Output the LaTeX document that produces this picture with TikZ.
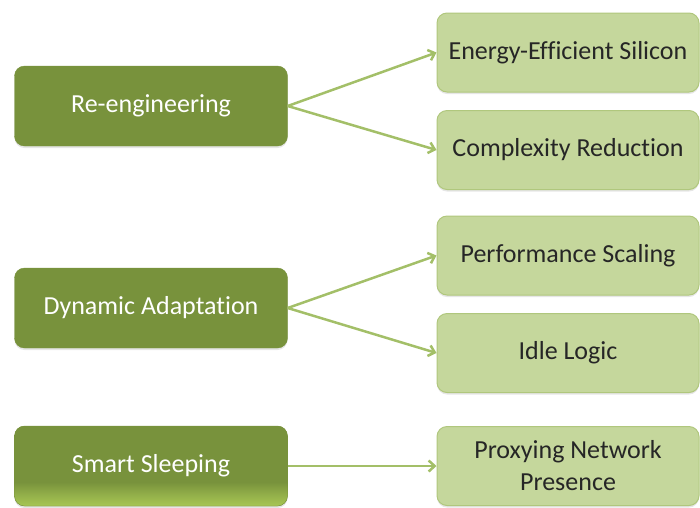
\documentclass[tikz,border=0pt]{standalone}
\usepackage{fontspec}
\setmainfont{Carlito}[Ligatures=NoCommon]
\usepackage{tikz}
\usetikzlibrary{arrows.meta}
\usetikzlibrary{shadows}

\definecolor{olivedark}{RGB}{120,146,60}
\definecolor{olivelight}{RGB}{197,215,156}
\definecolor{oliveline}{RGB}{176,199,125}
\definecolor{olivearrow}{RGB}{163,191,104}
\definecolor{olivebright}{RGB}{168,198,84}

% shading for the lowest left box
\pgfdeclareverticalshading{sleepshade}{100bp}{color(0bp)=(olivebright); color(25bp)=(olivebright); color(33bp)=(olivebright!50!olivedark); color(40bp)=(olivedark); color(100bp)=(olivedark)}

\begin{document}
\begin{tikzpicture}[x=1pt,y=-1pt,
		mainbox/.style={rounded corners=10pt, fill=olivedark, draw=olivedark, text=white,
			minimum width=273pt, minimum height=80pt, inner sep=0pt,
			font=\fontsize{26}{30}\selectfont,
			drop shadow={shadow xshift=0pt, shadow yshift=-2pt, opacity=0.2}},
		subbox/.style={rounded corners=10pt, fill=olivelight, draw=oliveline, line width=1pt,
			text=black!85, minimum width=262pt, minimum height=79pt, inner sep=0pt,
			align=center, font=\fontsize{26}{32}\selectfont,
			drop shadow={shadow xshift=0pt, shadow yshift=-2pt, opacity=0.2}},
		link/.style={draw=olivearrow, line width=2.5pt, -{Straight Barb[length=6pt,width=11pt]}}]
		\useasboundingbox (0,0) rectangle (700,507);
		
		% draw left boxes
		\node[mainbox] (reeng) at (151,106) {Re-engineering};
		\node[mainbox] (dynamic) at (151,308) {Dynamic Adaptation};
		\node[mainbox, shading=sleepshade] (smart) at (151,466) {Smart Sleeping};
		
		% draw right boxes
		\node[subbox] (silicon) at (568,52.5) {Energy-Efficient Silicon};
		\node[subbox] (complexity) at (568,150) {Complexity Reduction};
		\node[subbox] (scaling) at (568,255.5) {Performance Scaling};
		\node[subbox] (idle) at (568,353) {Idle Logic};
		\node[subbox] (proxy) at (568,466) {Proxying Network\\Presence};
		
		% draw arrows
		\foreach \a/\b in {reeng/silicon, reeng/complexity, dynamic/scaling, dynamic/idle, smart/proxy}
		\draw[link] (\a.east) -- (\b.west);
\end{tikzpicture}
\end{document}
